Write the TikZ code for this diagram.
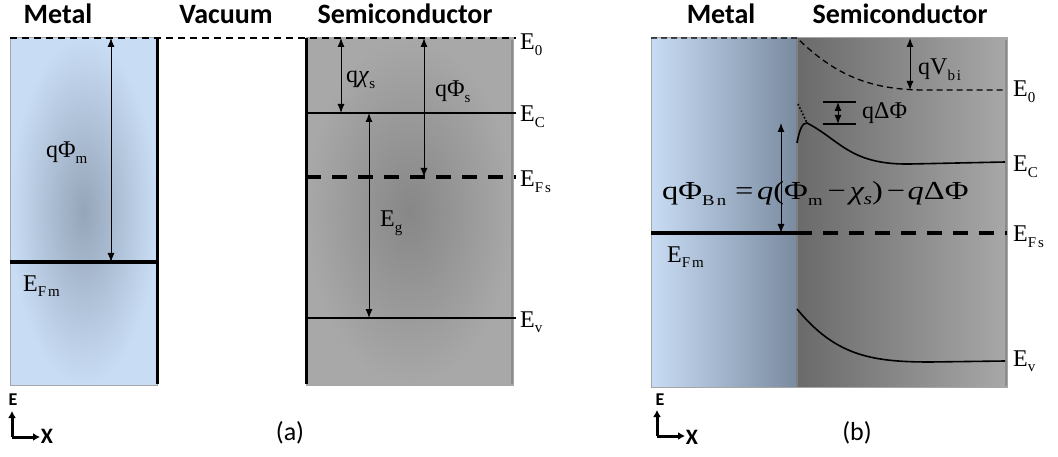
\documentclass[tikz,border=0pt]{standalone}
\usepackage{fontspec}
\setmainfont{Liberation Serif}
\newfontfamily\headfont{Carlito}
\newfontfamily\subfont[LetterSpace=12]{Liberation Serif}
\usetikzlibrary{arrows.meta,positioning}
\definecolor{metalLight}{HTML}{C8DCF4}
\definecolor{metalDark}{HTML}{95A5B9}
\definecolor{metalEdge}{HTML}{7A8BA0}
\definecolor{semiLight}{HTML}{A8A8A8}
\definecolor{semiDark}{HTML}{878787}
\definecolor{semiShadow}{HTML}{6A6A6A}
\newcommand{\lvl}[2]{#1\raisebox{-0.5ex}{\subfont\fontsize{15}{15}\selectfont #2}}

\begin{document}
\begin{tikzpicture}[x=1pt, y=-1pt,
  title/.style={font=\headfont\bfseries\fontsize{28}{30}\selectfont, anchor=base, inner sep=0pt},
  lbl/.style={font=\fontsize{24}{26}\selectfont, anchor=base west, inner sep=0pt},
  axislbl/.style={font=\headfont\bfseries\fontsize{18}{20}\selectfont, inner sep=0pt},
  caption/.style={font=\headfont\fontsize{26}{28}\selectfont, inner sep=0pt},
  level/.style={line width=1.6pt},
  fermi/.style={line width=3.6pt},
  fermidash/.style={line width=3.6pt, dash pattern=on 15pt off 11pt},
  vacdash/.style={line width=1.5pt, dash pattern=on 7pt off 5pt},
  junction/.style={line width=3pt},
  dimarrow/.style={{Latex[length=9pt,width=7pt]}-{Latex[length=9pt,width=7pt]}, line width=1pt},
  axisarrow/.style={-{Latex[length=7pt,width=8pt]}, line width=3pt},
  boxedge/.style={draw=black!35, line width=1pt},
]
\useasboundingbox (0,0) rectangle (1058,457);

% (a) separated metal and semiconductor
\shade[inner color=metalDark, outer color=metalLight] (10,38) rectangle (157,385);
\draw[boxedge] (10,38) rectangle (157,385);
\shade[inner color=semiDark, outer color=semiLight] (306,38) rectangle (513,385);
\draw[boxedge] (306,38) rectangle (513,385);
\draw[line width=2pt, black!45] (512,40) -- (512,384);

\coordinate (vacL) at (10,38);
\coordinate (vacR) at (516,38);
\coordinate (efmL) at (10,262);
\coordinate (efmR) at (157,262);
\coordinate (ecaL) at (306,113);
\coordinate (ecaR) at (516,113);
\coordinate (efsaL) at (306,177);
\coordinate (efsaR) at (516,177);
\coordinate (evaL) at (306,318);
\coordinate (evaR) at (516,318);

\draw[vacdash] (vacL) -- (vacR);
\draw[junction] (157,38) -- (157,384);
\draw[junction] (306,38) -- (306,384);
\draw[fermi] (efmL) -- (efmR);
\draw[level] (ecaL) -- (ecaR);
\draw[fermidash] (efsaL) -- (efsaR);
\draw[level] (evaL) -- (evaR);

\draw[dimarrow] (111,38) coordinate (phimTop) -- (111,262) coordinate (phimBot);
\draw[dimarrow] (341,38) coordinate (chiTop) -- (341,113) coordinate (chiBot);
\draw[dimarrow] (424,38) coordinate (phisTop) -- (424,177) coordinate (phisBot);
\draw[dimarrow] (369,113) coordinate (egTop) -- (369,318) coordinate (egBot);

\node[title] (tMetalA) at (58,24) {Metal};
\node[title] (tVacuum) at (226,24) {Vacuum};
\node[title] (tSemiA) at (405,24) {Semiconductor};

\node[lbl] (lPhim) at (46,158) {q\lvl{Φ}{m}};
\node[lbl] (lEfmA) at (23,291) {\lvl{E}{Fm}};
\node[lbl] (lChi) at (346,83) {q\lvl{\textit{χ}}{s}};
\node[lbl] (lPhis) at (435,97) {q\lvl{Φ}{s}};
\node[lbl] (lEg) at (380,227) {\lvl{E}{g}};
\node[lbl] (lE0A) at (520,50) {\lvl{E}{0}};
\node[lbl] (lEcA) at (520,122) {\lvl{E}{C}};
\node[lbl] (lEfsA) at (520,187) {\lvl{E}{Fs}};
\node[lbl] (lEvA) at (520,327) {\lvl{E}{v}};

\coordinate (cornerA) at (12,437);
\draw[axisarrow] (cornerA) -- (12,411);
\draw[axisarrow] (cornerA) -- (40,437);
\node[axislbl] (axEA) at (13,400) {E};
\node[axislbl, font=\headfont\bfseries\fontsize{22}{24}\selectfont] (axXA) at (47,436) {X};
\node[caption] (capA) at (290,433) {(a)};

% (b) metal-semiconductor contact
\shade[left color=metalLight, right color=metalEdge] (651,38) rectangle (797,387);
\shade[left color=semiShadow, right color=semiLight] (797,38) rectangle (1007,387);
\draw[boxedge] (651,38) rectangle (1007,387);
\draw[line width=2pt, black!50] (797,38) -- (797,387);
\draw[line width=2pt, black!45] (1006,40) -- (1006,386);

\coordinate (vacbL) at (651,38);
\coordinate (vacbM) at (797,38);
\coordinate (vacbR) at (1005,90);
\coordinate (efmbL) at (651,233);
\coordinate (efmbM) at (797,233);
\coordinate (efmbR) at (1007,233);
\coordinate (ecbL) at (797,143);
\coordinate (peak) at (807,123);
\coordinate (ecbR) at (1005,162);
\coordinate (evbL) at (797,309);
\coordinate (evbR) at (1005,361);

\draw[vacdash, line width=1.3pt, dash pattern=on 6pt off 4pt] (vacbL) -- (vacbM) .. controls (835,75) and (870,90) .. (925,90) -- (vacbR);
\draw[fermi] (efmbL) -- (efmbM);
\draw[fermidash] (efmbM) -- (efmbR);
\draw[line width=1.6pt, dotted] (798,104) -- (peak);
\draw[level] (ecbL) .. controls (799,132) and (802,122) .. (peak) .. controls (840,140) and (850,165) .. (910,164) -- (ecbR);
\draw[level] (evbL) .. controls (835,355) and (870,362) .. (930,362) -- (evbR);

\draw[level] (823,102) coordinate (dphiTopL) -- (856,102);
\draw[level] (823,124) coordinate (dphiBotL) -- (856,124);
\draw[dimarrow] (838,102) coordinate (dphiTop) -- (838,124) coordinate (dphiBot);
\draw[dimarrow] (910,38) coordinate (vbiTop) -- (910,90) coordinate (vbiBot);
\draw[dimarrow] (781,123) coordinate (phibTop) -- (781,233) coordinate (phibBot);

\node[title] (tMetalB) at (721,24) {Metal};
\node[title] (tSemiB) at (900,24) {Semiconductor};

\node[lbl] (lVbi) at (918,75) {q\lvl{V}{bi}};
\node[lbl] (lDphi) at (862,119) {qΔΦ};
\node[lbl, font=\fontsize{26}{28}\selectfont] (lPhiBn) at (662,200)
  {\scalebox{1.25}[1]{q\lvl{Φ}{Bn}\hspace{7pt}=\hspace{3pt}\textit{q}(\lvl{Φ}{m}\hspace{4pt}−\hspace{3pt}\textit{χ\raisebox{-0.4ex}{\fontsize{17}{17}\selectfont s}})\hspace{3pt}−\hspace{2pt}\textit{q}ΔΦ}};
\node[lbl] (lEfmB) at (667,262) {\lvl{E}{Fm}};
\node[lbl] (lE0B) at (1013,97) {\lvl{E}{0}};
\node[lbl] (lEcB) at (1013,172) {\lvl{E}{C}};
\node[lbl] (lEfsB) at (1013,242) {\lvl{E}{Fs}};
\node[lbl] (lEvB) at (1013,366) {\lvl{E}{v}};

\coordinate (cornerB) at (657,436);
\draw[axisarrow] (cornerB) -- (657,410);
\draw[axisarrow] (cornerB) -- (685,436);
\node[axislbl] (axEB) at (660,400) {E};
\node[axislbl, font=\headfont\bfseries\fontsize{22}{24}\selectfont] (axXB) at (692,437) {X};
\node[caption] (capB) at (857,433) {(b)};
\end{tikzpicture}
\end{document}
